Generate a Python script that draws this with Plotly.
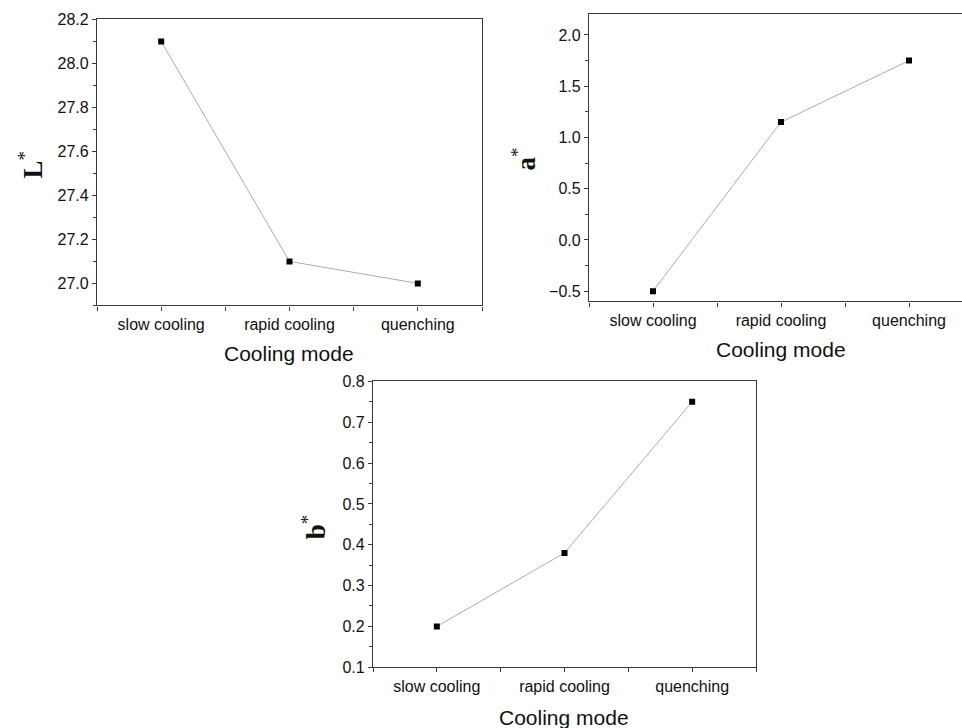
import plotly.graph_objects as go

W, H = 962, 728

categories = ["slow cooling", "rapid cooling", "quenching"]
L_values = [28.1, 27.1, 27.0]
a_values = [-0.5, 1.15, 1.75]
b_values = [0.2, 0.38, 0.75]

x_pos = list(range(len(categories)))

def fx(p):
    return p / W

def fy(p):
    # compensate for the vertical mapping observed in the capture
    q = (p - 8.5) / 0.977
    return min(1.0, max(0.0, 1 - q / H))

fig = go.Figure()

panels = [
    (L_values, "x", "y"),
    (a_values, "x2", "y2"),
    (b_values, "x3", "y3"),
]
for vals, xa, ya in panels:
    fig.add_trace(go.Scatter(
        x=x_pos, y=vals, mode="lines+markers", xaxis=xa, yaxis=ya,
        line=dict(color="#ababab", width=1),
        marker=dict(symbol="square", size=6, color="black"),
        showlegend=False, hoverinfo="skip"))

tickfont = dict(family="Liberation Sans, Arial", size=16, color="#111")
axline = dict(showline=True, linecolor="#3a3a3a", linewidth=1.3,
              ticks="outside", ticklen=4, tickcolor="#3a3a3a", tickwidth=1,
              showgrid=False, zeroline=False, tickfont=tickfont)

def xaxis(domain, rng, anchor):
    return dict(domain=domain, range=rng, tickmode="array", tickvals=x_pos,
                ticktext=categories, mirror=True, anchor=anchor,
                minor=dict(tickmode="array", tickvals=[-0.5, 0.5, 1.5, 2.5],
                           ticks="outside", ticklen=4, tickcolor="#3a3a3a"),
                **axline)

def yaxis(domain, rng, dtick, minor_dtick, anchor, mirror=True):
    return dict(domain=domain, range=rng, dtick=dtick, tick0=0, tickformat=".1f",
                mirror=mirror, anchor=anchor,
                minor=dict(dtick=minor_dtick, tick0=0, ticks="outside",
                           ticklen=3, tickcolor="#3a3a3a"),
                **axline)

fig.update_layout(
    width=W, height=H, margin=dict(l=0, r=0, t=0, b=0),
    paper_bgcolor="white", plot_bgcolor="white",
    xaxis=xaxis([fx(97), fx(482)], [-0.5, 2.5], "y"),
    yaxis=yaxis([fy(306), fy(20)], [26.9, 28.2], 0.2, 0.1, "x"),
    xaxis2=xaxis([fx(589), 1.0], [-0.5, 2.414], "y2"),
    yaxis2=yaxis([fy(302), fy(15)], [-0.6, 2.2], 0.5, 0.25, "x2", mirror=False),
    xaxis3=xaxis([fx(373), fx(756)], [-0.5, 2.5], "y3"),
    yaxis3=yaxis([fy(668), fy(382)], [0.1, 0.8], 0.1, 0.05, "x3"),
)

titlefont = dict(family="Liberation Sans, Arial", size=21, color="#111")
yfont = dict(family="Liberation Serif, Times New Roman", size=27, color="#111")

annots = [
    ("Cooling mode", 289, 354, 0, titlefont),
    ("Cooling mode", 781, 350, 0, titlefont),
    ("Cooling mode", 564, 718, 0, titlefont),
    ("<b>L</b><sup>*</sup>", 31, 166, -90, yfont),
    ("<b>a</b><sup>*</sup>", 524, 160, -90, yfont),
    ("<b>b</b><sup>*</sup>", 314, 528, -90, yfont),
]
for text, x, y, ang, font in annots:
    fig.add_annotation(text=text, x=fx(x), y=fy(y), xref="paper", yref="paper",
                       xanchor="center", yanchor="middle", showarrow=False,
                       textangle=ang, font=font)

fig.write_html(
    "out.html",
    config={"displayModeBar": False},
    post_script="document.body.style.margin='0';document.documentElement.style.overflow='hidden';",
)
